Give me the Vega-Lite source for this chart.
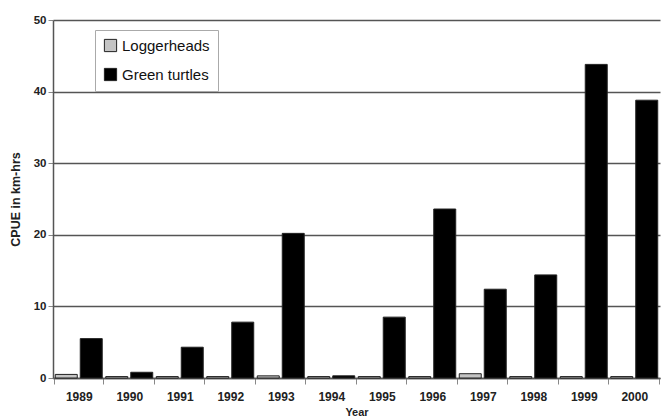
{
  "$schema": "https://vega.github.io/schema/vega-lite/v6.json",
  "autosize": {"type": "none"},
  "padding": {"left": 53, "top": 20, "right": 3, "bottom": 42},
  "width": 607,
  "height": 358,
  "background": "white",
  "data": {
    "values": [
      {"Year": "1989", "Species": "Loggerheads", "CPUE": 0.5},
      {"Year": "1989", "Species": "Green turtles", "CPUE": 5.5},
      {"Year": "1990", "Species": "Loggerheads", "CPUE": 0.2},
      {"Year": "1990", "Species": "Green turtles", "CPUE": 0.8},
      {"Year": "1991", "Species": "Loggerheads", "CPUE": 0.2},
      {"Year": "1991", "Species": "Green turtles", "CPUE": 4.3},
      {"Year": "1992", "Species": "Loggerheads", "CPUE": 0.2},
      {"Year": "1992", "Species": "Green turtles", "CPUE": 7.8},
      {"Year": "1993", "Species": "Loggerheads", "CPUE": 0.3},
      {"Year": "1993", "Species": "Green turtles", "CPUE": 20.2},
      {"Year": "1994", "Species": "Loggerheads", "CPUE": 0.2},
      {"Year": "1994", "Species": "Green turtles", "CPUE": 0.3},
      {"Year": "1995", "Species": "Loggerheads", "CPUE": 0.2},
      {"Year": "1995", "Species": "Green turtles", "CPUE": 8.5},
      {"Year": "1996", "Species": "Loggerheads", "CPUE": 0.2},
      {"Year": "1996", "Species": "Green turtles", "CPUE": 23.6},
      {"Year": "1997", "Species": "Loggerheads", "CPUE": 0.6},
      {"Year": "1997", "Species": "Green turtles", "CPUE": 12.4},
      {"Year": "1998", "Species": "Loggerheads", "CPUE": 0.2},
      {"Year": "1998", "Species": "Green turtles", "CPUE": 14.4},
      {"Year": "1999", "Species": "Loggerheads", "CPUE": 0.2},
      {"Year": "1999", "Species": "Green turtles", "CPUE": 43.8},
      {"Year": "2000", "Species": "Loggerheads", "CPUE": 0.2},
      {"Year": "2000", "Species": "Green turtles", "CPUE": 38.8}
    ]
  },
  "mark": {"type": "bar", "stroke": "#222", "strokeWidth": 1},
  "encoding": {
    "x": {
      "field": "Year", "type": "ordinal",
      "scale": {"paddingInner": 0.02, "paddingOuter": 0.02},
      "axis": {
        "title": "Year", "labelAngle": 0, "labelFont": "Liberation Sans", "labelFontWeight": "bold",
        "labelFontSize": 12, "labelColor": "#222", "titleFont": "Liberation Sans", "titleFontSize": 11,
        "titleFontWeight": "bold", "titleColor": "#222", "titlePadding": 4, "labelPadding": 7,
        "domainColor": "#555", "domainWidth": 1.5, "tickColor": "#888", "tickSize": 6, "tickBand": "extent"
      }
    },
    "xOffset": {"field": "Species", "type": "nominal", "sort": ["Loggerheads", "Green turtles"],
      "scale": {"paddingInner": 0.12, "paddingOuter": 0.05}},
    "y": {
      "field": "CPUE", "type": "quantitative",
      "scale": {"domain": [0, 50], "nice": false},
      "axis": {
        "title": "CPUE in km-hrs", "values": [0, 10, 20, 30, 40, 50],
        "labelFont": "Liberation Sans", "labelFontWeight": "bold", "labelFontSize": 11.5, "labelColor": "#222",
        "titleFont": "Liberation Sans", "titleFontSize": 12.5, "titleFontWeight": "bold", "titleColor": "#222",
        "titlePadding": 11, "grid": true, "gridColor": "#555", "gridWidth": 1.5,
        "domainColor": "#555", "domainWidth": 1.5, "tickColor": "#888", "tickSize": 5
      }
    },
    "color": {
      "field": "Species", "type": "nominal", "sort": ["Loggerheads", "Green turtles"],
      "scale": {"domain": ["Loggerheads", "Green turtles"], "range": ["#c4c4c4", "#000000"]},
      "legend": {
        "title": null, "orient": "none", "legendX": 42, "legendY": 10,
        "symbolType": "square", "symbolSize": 150, "symbolStrokeColor": "#222", "symbolStrokeWidth": 1,
        "labelFont": "Liberation Sans", "labelFontSize": 15, "labelColor": "#111", "rowPadding": 12,
        "fillColor": "white", "strokeColor": "#aaa", "padding": 8, "labelOffset": 4
      }
    }
  },
  "config": {"view": {"stroke": null}}
}
